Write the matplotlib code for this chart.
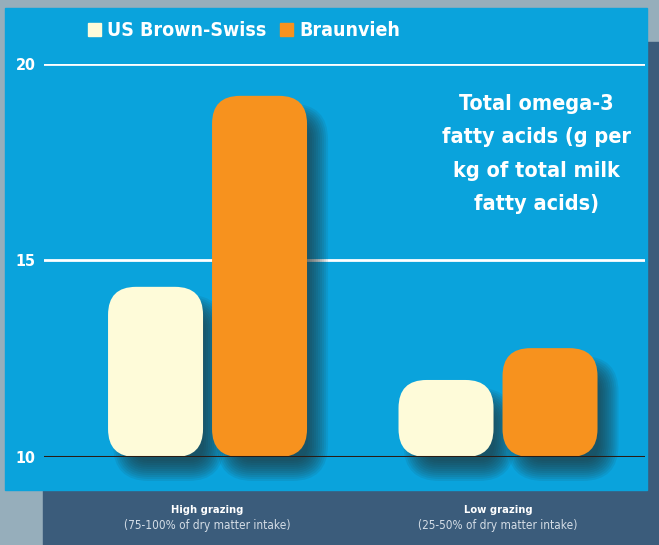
import matplotlib
matplotlib.use("Agg")
import matplotlib.pyplot as plt
from matplotlib.patches import FancyBboxPatch, Rectangle
from matplotlib import font_manager
import matplotlib.transforms as mtransforms
import numpy as np

# ---- data ----
groups = ["High grazing", "Low grazing"]
group_notes = ["(75-100% of dry matter intake)", "(25-50% of dry matter intake)"]
series_names = ["US Brown-Swiss", "Braunvieh"]
us_brown_swiss = [14.33, 11.96]
braunvieh = [19.19, 12.77]
yticks = [10, 15, 20]
note = "Total omega-3\nfatty acids (g per\nkg of total milk\nfatty acids)"

# ---- style ----
W, H = 659, 545
BLUE = "#0aa3dc"
BAND = "#3b5c7b"
GREY = "#96aebb"
CREAM = "#fefbd9"
ORANGE = "#f7921e"
SHADOW = "#243232"

names = {f.name for f in font_manager.fontManager.ttflist}
if "Liberation Sans Narrow" in names:
    FAM = "Liberation Sans Narrow"
    STRETCH = "normal"
else:
    FAM = "DejaVu Sans"
    STRETCH = "condensed"

fig = plt.figure(figsize=(W / 100, H / 100), dpi=100)
fig.patch.set_facecolor(GREY)

def fr(x0, y0, x1, y1):
    # pixel box (top-left origin) -> figure fraction rect
    return (x0 / W, 1 - y1 / H, (x1 - x0) / W, (y1 - y0) / H)

# background panels
x, y, w, h = fr(43, 42, 659, 545)
fig.patches.append(Rectangle((x, y), w, h, transform=fig.transFigure, color=BAND, zorder=0))
x, y, w, h = fr(5, 8, 647, 490)
fig.patches.append(Rectangle((x, y), w, h, transform=fig.transFigure, color=BLUE, zorder=1))

# axes: x from 44..645 px, y 20 at 64px, 10 at 457px
ax = fig.add_axes(fr(44, 64, 645, 457))
ax.set_facecolor("none")
ax.set_zorder(2)
xpos = np.arange(len(groups))
xlim = (-0.563, 1.506)
ax.set_xlim(*xlim)
ax.set_ylim(10, 20)
for s in ax.spines.values():
    s.set_visible(False)
ax.set_xticks([])
ax.set_yticks(yticks)
ax.tick_params(axis="y", length=0, pad=6)
for lab in ax.get_yticklabels():
    lab.set_color("white")
    lab.set_fontweight("bold")
    lab.set_fontsize(11.5)
    lab.set_family(FAM)
    lab.set_stretch(STRETCH)

# gridlines
for t in yticks:
    if t == 10:
        ax.axhline(t, color="#2a1c14", lw=2.2, zorder=6)
    else:
        ax.axhline(t, color="white", lw=2.0, zorder=1)

px_x = 601 / (xlim[1] - xlim[0])
px_y = 393 / 10.0
aspect = px_x / px_y
bw_px, gap_px = 95, 9
bw = bw_px / px_x
off = (bw_px + gap_px) / 2 / px_x

bars = []
for vals, col, sgn in [(us_brown_swiss, CREAM, -1), (braunvieh, ORANGE, 1)]:
    bc = ax.bar(xpos + sgn * off, np.array(vals) - 10, width=bw, bottom=10, color="none")
    for b in bc:
        b.set_visible(False)
        bars.append((b, col))

r = 28 / px_x
sdx, sdy = 13 / px_x, -16 / px_y
for b, col in bars:
    bx, by = b.get_x(), b.get_y()
    bwid, bh = b.get_width(), b.get_height()
    # soft shadow layers
    for pp in range(-12, 10, 2):
        pad = pp / px_x
        sh = FancyBboxPatch((bx + sdx, by + sdy), bwid, bh,
                            boxstyle=f"round,pad={pad},rounding_size={max(r + pad, 0.3 * r)}",
                            mutation_aspect=aspect, facecolor=SHADOW, edgecolor="none",
                            alpha=0.095, zorder=3, clip_on=False)
        ax.add_patch(sh)
    p = FancyBboxPatch((bx, by), bwid, bh,
                       boxstyle=f"round,pad=0,rounding_size={r}",
                       mutation_aspect=aspect, facecolor=col, edgecolor="none",
                       zorder=5, clip_on=False)
    ax.add_patch(p)

# annotation
fig.text(536 / W, 1 - 154 / H, note, ha="center", va="center", color="white",
         fontsize=15.5, fontweight="bold", family=FAM, stretch=STRETCH,
         linespacing=1.85, zorder=10)

# legend
lx = [(88, series_names[0], CREAM), (280, series_names[1], ORANGE)]
for px0, name, col in lx:
    x, y, w, h = fr(px0, 23, px0 + 13, 36)
    fig.patches.append(Rectangle((x, y), w, h, transform=fig.transFigure, color=col, zorder=5))
    fig.text((px0 + 19) / W, 1 - 30 / H, name, ha="left", va="center", color="white",
             fontsize=14, fontweight="bold", family=FAM, stretch=STRETCH, zorder=10)

# category labels in band
trans = mtransforms.blended_transform_factory(ax.transData, fig.transFigure)
for xi, g, nt in zip(xpos, groups, group_notes):
    ax.text(xi, 1 - 510 / H, g, transform=trans, ha="center", va="center", color="white",
            fontsize=8, fontweight="bold", family=FAM, stretch=STRETCH, clip_on=False)
    ax.text(xi, 1 - 526 / H, nt, transform=trans, ha="center", va="center", color="#d4dde6",
            fontsize=8.5, family=FAM, stretch=STRETCH, clip_on=False)

fig.savefig("out.png", dpi=100, facecolor=fig.get_facecolor())
